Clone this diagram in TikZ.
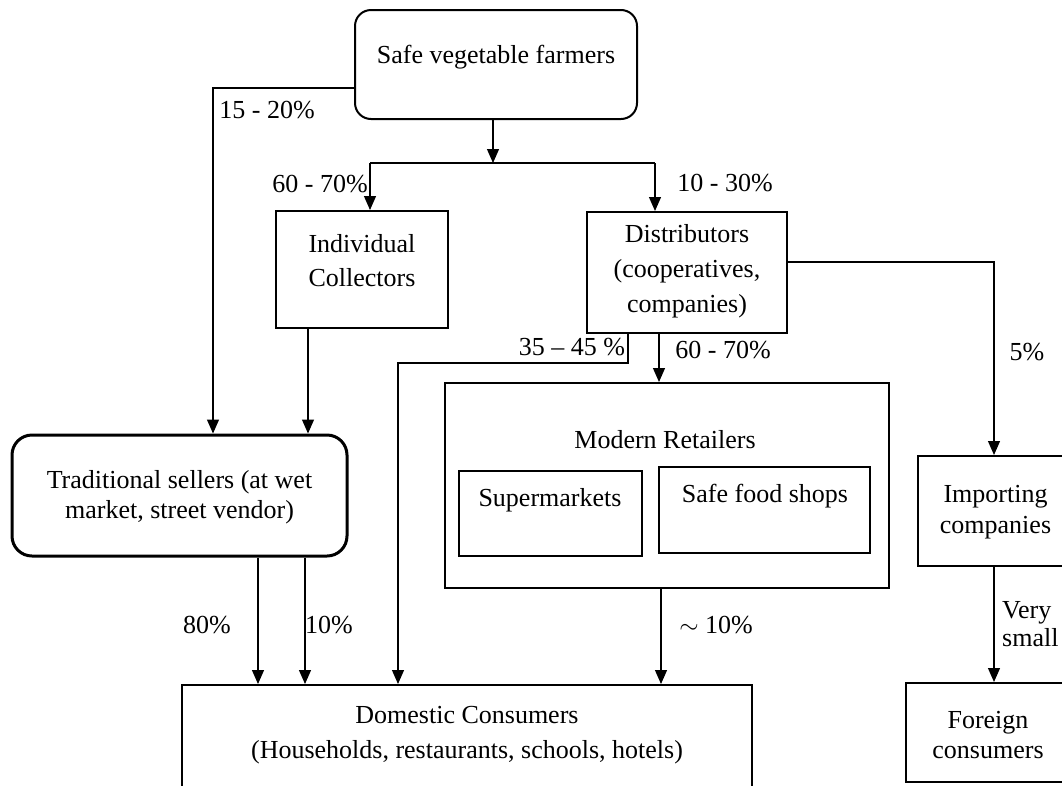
\documentclass[tikz,border=0pt]{standalone}
\usepackage{fontspec}
\setmainfont{Liberation Serif}
\usetikzlibrary{arrows.meta}
\tikzset{
  box/.style={draw, line width=2pt, inner sep=0pt},
  rbox/.style={box, rounded corners=16pt},
  txt/.style={font=\fontsize{26}{33}\selectfont, align=center, inner sep=0pt},
  lab/.style={font=\fontsize{26}{31}\selectfont, inner sep=0pt},
  conn/.style={line width=1.2pt, -{Triangle[length=14pt,width=12pt]}},
  plain/.style={line width=1.2pt}
}
\begin{document}
\begin{tikzpicture}[x=1pt,y=-1pt]
\useasboundingbox (0,0) rectangle (1062,785);
% boxes
\node[rbox, minimum width=282pt, minimum height=109pt] (farm) at (496,64.5) {};
\node[txt] (farmt) at (496,57) {Safe vegetable farmers};
\node[box, minimum width=172pt, minimum height=117pt] (coll) at (362,269.5) {};
\node[txt, font=\fontsize{26}{34}\selectfont] (collt) at (362,261) {Individual\\Collectors};
\node[box, minimum width=200pt, minimum height=121pt] (dist) at (687,272.5) {};
\node[txt, font=\fontsize{26}{35}\selectfont] (distt) at (687,271) {Distributors\\(cooperatives,\\companies)};
\node[rbox, line width=3pt, rounded corners=20pt, minimum width=335pt, minimum height=121pt] (trad) at (179.5,495.5) {};
\node[txt, font=\fontsize{26}{30}\selectfont] (tradt) at (179.5,497) {Traditional sellers (at wet\\market, street vendor)};
\node[box, minimum width=444pt, minimum height=205pt] (mod) at (667,485.5) {};
\node[txt] (modt) at (665,440) {Modern Retailers};
\node[box, minimum width=183pt, minimum height=85pt] (sup) at (550.5,513.5) {};
\node[txt] (supt) at (550,500) {Supermarkets};
\node[box, minimum width=211pt, minimum height=86pt] (safe) at (764.5,510) {};
\node[txt] (safet) at (765,496) {Safe food shops};
\node[box, minimum width=155pt, minimum height=110pt] (imp) at (995.5,511) {};
\node[txt, font=\fontsize{26}{31}\selectfont] (impt) at (995.5,512) {Importing\\companies};
\node[box, minimum width=164pt, minimum height=99pt] (frgn) at (988,732.5) {};
\node[txt, font=\fontsize{26}{30}\selectfont] (frgnt) at (988,735) {Foreign\\consumers};
\node[box, minimum width=570pt, minimum height=120pt] (dom) at (467,745) {};
\node[txt, font=\fontsize{26}{35}\selectfont] (domt) at (467,735.5) {Domestic Consumers\\(Households, restaurants, schools, hotels)};
% connectors
\coordinate (c15) at (213,88);
\draw[conn] (c15 -| farm.west) -- (c15) -- (c15 |- trad.north);
\coordinate (split) at (493,163);
\draw[conn] (split |- farm.south) -- (split);
\coordinate (sl) at (370,163);
\coordinate (sr) at (655,163);
\draw[plain] (sl) -- (sr);
\draw[conn] (sl) -- (sl |- coll.north);
\draw[conn] (sr) -- (sr |- dist.north);
\coordinate (cb) at (308,300);
\draw[conn] (cb |- coll.south) -- (cb |- trad.north);
\coordinate (dr) at (994,262);
\draw[conn] (dist.east |- dr) -- (dr) -- (dr |- imp.north);
\coordinate (dm) at (659,350);
\draw[conn] (dm |- dist.south) -- (dm |- mod.north);
\coordinate (d35) at (628,363);
\coordinate (d35l) at (398,363);
\draw[conn] (d35 |- dist.south) -- (d35) -- (d35l) -- (d35l |- dom.north);
\coordinate (t1) at (258,620);
\coordinate (t2) at (305,620);
\draw[conn] (t1 |- trad.south) -- (t1 |- dom.north);
\draw[conn] (t2 |- trad.south) -- (t2 |- dom.north);
\coordinate (mr) at (661,620);
\draw[conn] (mr |- mod.south) -- (mr |- dom.north);
\coordinate (ib) at (994,620);
\draw[conn] (ib |- imp.south) -- (ib |- frgn.north);
% labels
\node[lab] (l1) at (267,110) {15 - 20\%};
\node[lab] (l2) at (320,184) {60 - 70\%};
\node[lab] (l3) at (725,183) {10 - 30\%};
\node[lab] (l4) at (572,347) {35 -- 45 \%};
\node[lab] (l5) at (723,350) {60 - 70\%};
\node[lab] (l6) at (1027,352) {5\%};
\node[lab] (l7) at (207,625) {80\%};
\node[lab] (l8) at (329,625) {10\%};
\node[lab] (l9) at (716,625) {$\sim$ 10\%};
\node[lab, anchor=west, align=left, font=\fontsize{26}{28}\selectfont] (l10) at (1002,624) {Very\\small};
\end{tikzpicture}
\end{document}
